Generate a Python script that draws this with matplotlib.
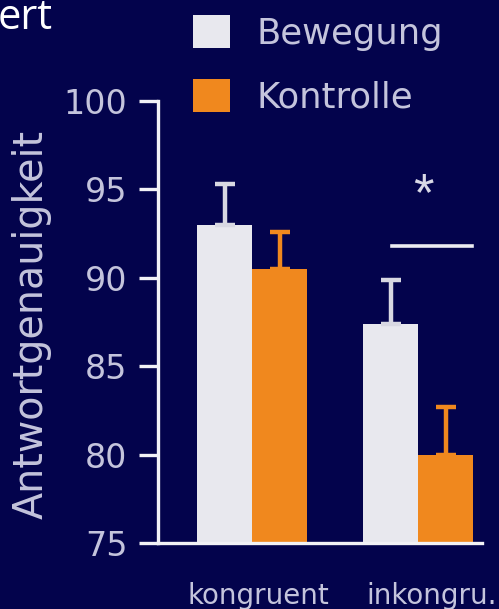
import matplotlib
matplotlib.use("Agg")
import matplotlib.pyplot as plt
import numpy as np

# Antwortgenauigkeit (%) je Bedingung
bedingungen = ["kongruent", "inkongru."]
gruppen = ["Bewegung", "Kontrolle"]
bewegung = [93.0, 87.4]
bewegung_err = [2.3, 2.5]
kontrolle = [90.5, 80.0]
kontrolle_err = [2.1, 2.7]
yticks = [75, 80, 85, 90, 95, 100]

bg = "#03034c"
txt = "#c4c4dc"
weiss = "#e8e8ee"
orange = "#f0881e"

fig = plt.figure(figsize=(4.99, 6.09), dpi=100, facecolor=bg)
ax = fig.add_axes([158 / 499, 1 - 543 / 609, 324 / 499, 442 / 609])
ax.set_facecolor(bg)

x = np.arange(len(bedingungen))
w = 0.33
ax.bar(x - w / 2, bewegung, w, color=weiss, yerr=[np.zeros(2), bewegung_err],
       error_kw=dict(ecolor="#d8d8e2", elinewidth=3.2, capsize=7, capthick=3.2),
       label=gruppen[0], zorder=2)
ax.bar(x + w / 2, kontrolle, w, color=orange, yerr=[np.zeros(2), kontrolle_err],
       error_kw=dict(ecolor=orange, elinewidth=3.2, capsize=7, capthick=3.2),
       label=gruppen[1], zorder=2)

ax.set_ylim(75, 100)
ax.set_xlim(-0.566, 1.383)
ax.set_yticks(yticks)
ax.set_xticks(x + [0.04, 0.08])
ax.set_xticklabels(bedingungen)

for s in ["top", "right"]:
    ax.spines[s].set_visible(False)
for s in ["left", "bottom"]:
    ax.spines[s].set_color("#f2f2f6")
    ax.spines[s].set_linewidth(2.4)

ax.tick_params(axis="y", length=14, width=2.4, color="#f2f2f6", pad=8,
               labelsize=24, labelcolor=txt)
ax.tick_params(axis="x", length=0, pad=28, labelsize=20, labelcolor=txt)

# Signifikanz inkongruent
ax.plot([0.843, 1.325], [91.8, 91.8], color="#ececf2", lw=2.6, clip_on=False)
ax.text(1.03, 94.6, "*", family="Liberation Sans", fontsize=38, color="#d8d8e6",
        ha="center", va="center")

fig.text(32 / 499, 1 - 324 / 609, "Antwortgenauigkeit", rotation=90,
         fontsize=28.5, color=txt, ha="center", va="center")

fig.text(-0.004, 1 - 29 / 609, "ert", fontsize=30, color="white",
         family="Open Sans", va="baseline", ha="left")

ax.legend(loc="upper left", bbox_to_anchor=(193 / 499, 1 - 15 / 609),
          bbox_transform=fig.transFigure, frameon=False, fontsize=25.5,
          labelcolor=txt, handlelength=1.05, handleheight=1.05,
          handletextpad=0.75, labelspacing=0.8, borderpad=0, borderaxespad=0)

fig.savefig("out.png", dpi=100, facecolor=bg)
